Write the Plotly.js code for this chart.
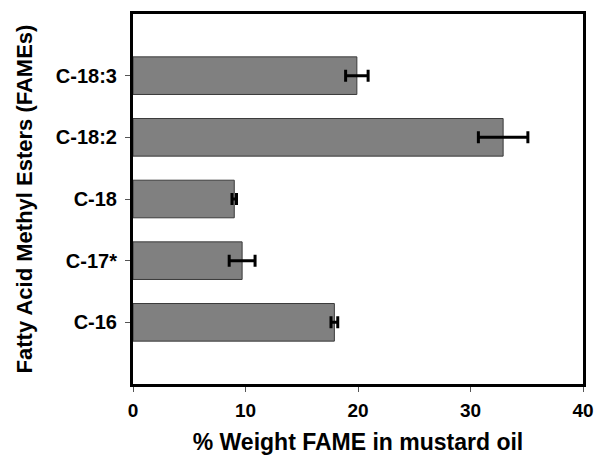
<!DOCTYPE html>
<html><head><meta charset="utf-8">
<script src="https://cdn.plot.ly/plotly-3.0.1.min.js"></script>
<style>html,body{margin:0;padding:0;background:#fff}</style>
</head><body>
<div id="chart" style="width:599px;height:473px"></div>
<script>
const categories = ["C-16", "C-17*", "C-18", "C-18:2", "C-18:3"];
const values = [17.9, 9.7, 9.0, 32.9, 19.9];
const errors = [0.3, 1.15, 0.2, 2.2, 1.0];
const xTicks = [0, 10, 20, 30, 40];

const trace = {
  type: "bar",
  orientation: "h",
  y: categories,
  x: values,
  width: 0.61,
  marker: {color: "#808080", line: {color: "#3a3a3a", width: 1}},
  error_x: {type: "data", array: errors, visible: true, color: "#000", thickness: 3, width: 6}
};

const fam = "Liberation Sans, Arial, sans-serif";
const layout = {
  width: 599, height: 473,
  margin: {l: 133, r: 16, t: 14, b: 89},
  paper_bgcolor: "#fff", plot_bgcolor: "#fff",
  showlegend: false,
  font: {family: fam, color: "#000"},
  xaxis: {
    range: [0, 40], tickvals: xTicks, ticktext: xTicks.map(String),
    showgrid: false, zeroline: false,
    showline: true, linecolor: "#000", linewidth: 3, mirror: true,
    ticks: "outside", ticklen: 5, tickwidth: 1, tickcolor: "#555",
    ticklabelstandoff: 2,
    tickfont: {family: fam, size: 19, color: "#000", weight: "bold"},
    title: {text: "% Weight FAME in mustard oil", font: {family: fam, size: 23, color: "#000", weight: "bold"}, standoff: 15}
  },
  yaxis: {
    type: "category", categoryorder: "array", categoryarray: categories,
    range: [-1, 5],
    showgrid: false, zeroline: false,
    showline: true, linecolor: "#000", linewidth: 3, mirror: true,
    ticks: "outside", ticklen: 5, tickwidth: 1, tickcolor: "#555",
    ticklabelstandoff: 4,
    tickfont: {family: fam, size: 20, color: "#000", weight: "bold"},
    title: {text: "Fatty Acid Methyl Esters (FAMEs)", font: {family: fam, size: 22, color: "#000", weight: "bold"}, standoff: 18}
  }
};
Plotly.newPlot("chart", [trace], layout, {staticPlot: true, displayModeBar: false});
</script>
</body></html>
